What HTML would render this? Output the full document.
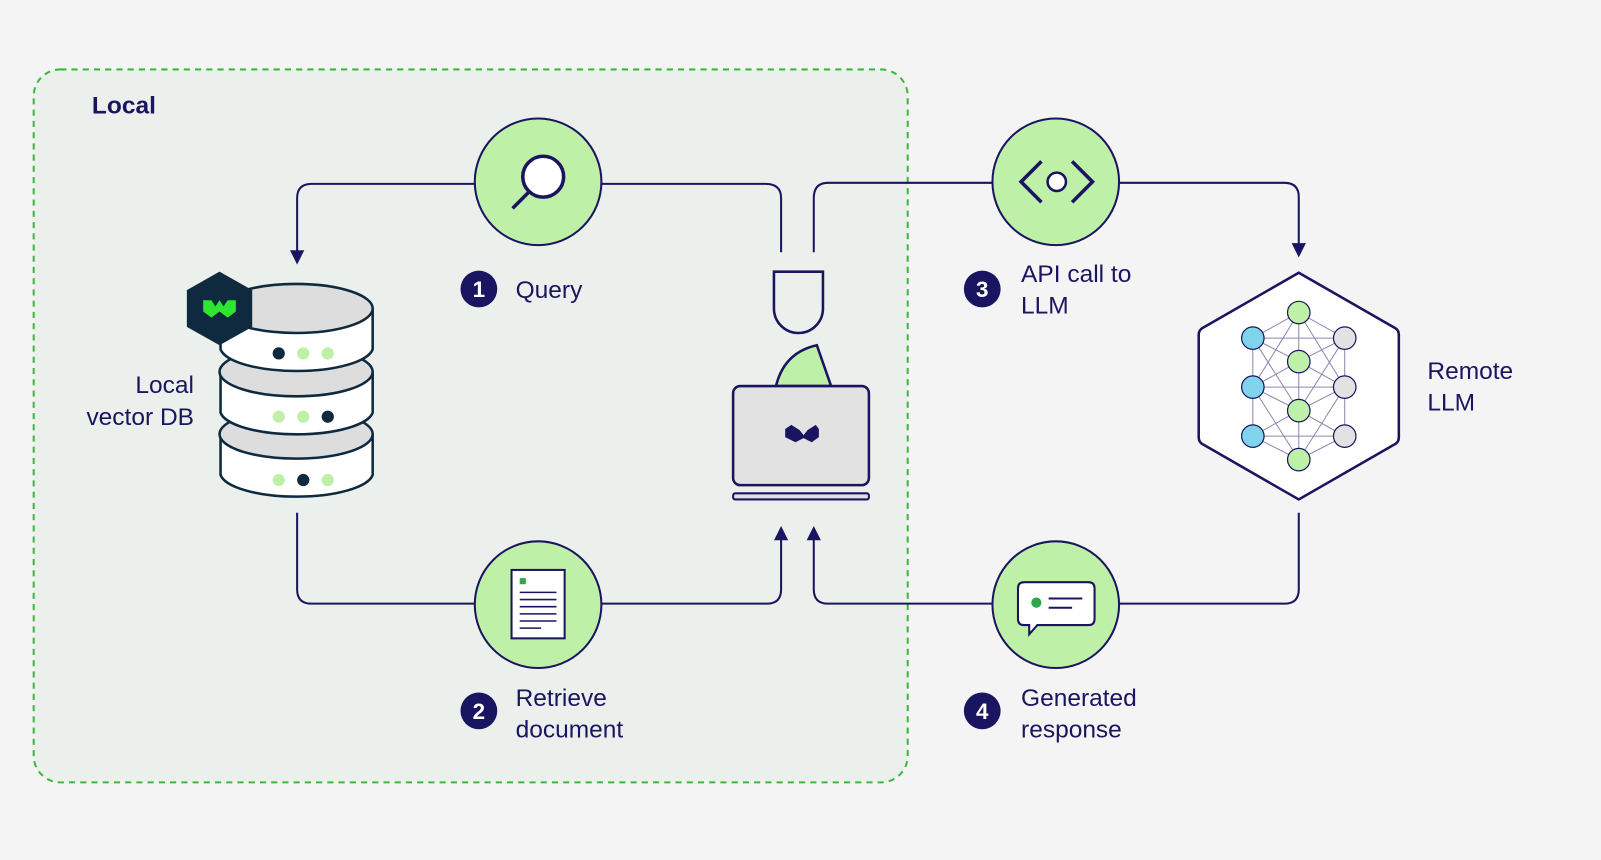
<!DOCTYPE html>
<html><head><meta charset="utf-8"><style>
html,body{margin:0;padding:0;background:#f4f4f4;}
svg{display:block}
text{font-family:"Liberation Sans",sans-serif;fill:#1a1560;}
</style></head><body>
<svg width="1601" height="860" viewBox="0 0 1568 842" preserveAspectRatio="none">
<defs>
<marker id="ar" markerWidth="14" markerHeight="14" refX="7" refY="7" orient="auto" markerUnits="userSpaceOnUse">
<path d="M0,0 L14,7 L0,14 z" fill="#1a1560"/></marker>
</defs>
<rect width="1568" height="842" fill="#f4f4f4"/>
<rect x="33" y="68" width="856" height="698" rx="26" fill="#ecf0ec" stroke="#3db83d" stroke-width="2" stroke-dasharray="6,5"/>
<text x="90" y="111" font-size="24" font-weight="bold">Local</text>

<g fill="none" stroke="#1a1560" stroke-width="2">
<path d="M465,180 H305 Q291,180 291,194 V252" marker-end="url(#ar)"/>
<path d="M589,180 H750 Q765,180 765,194 V247"/>
<path d="M797,247 V194 Q797,179 811,179 H972"/>
<path d="M1096,179 H1258 Q1272,179 1272,193 V245" marker-end="url(#ar)"/>
<path d="M291,502 V577 Q291,591 305,591 H465"/>
<path d="M589,591 H751 Q765,591 765,577 V522" marker-end="url(#ar)"/>
<path d="M972,591 H811 Q797,591 797,577 V522" marker-end="url(#ar)"/>
<path d="M1096,591 H1258 Q1272,591 1272,577 V502"/>
</g>

<g fill="#bff0a8" stroke="#1a1560" stroke-width="2">
<circle cx="527" cy="178" r="62"/><circle cx="527" cy="592" r="62"/>
<circle cx="1034" cy="178" r="62"/><circle cx="1034" cy="592" r="62"/>
</g>
<circle cx="532" cy="173" r="20" fill="#fff" stroke="#1a1560" stroke-width="3.5"/>
<line x1="518" y1="188" x2="502" y2="204" stroke="#1a1560" stroke-width="3.5"/>
<rect x="501" y="558" width="52" height="67" fill="#fff" stroke="#1a1560" stroke-width="2"/>
<rect x="509" y="566" width="6" height="6" fill="#2ea84a"/>
<g stroke="#1a1560" stroke-width="1.5"><line x1="509" y1="580" x2="545" y2="580"/><line x1="509" y1="587" x2="545" y2="587"/><line x1="509" y1="594" x2="545" y2="594"/><line x1="509" y1="601" x2="545" y2="601"/><line x1="509" y1="608" x2="545" y2="608"/><line x1="509" y1="615" x2="530" y2="615"/></g>
<g fill="none" stroke="#1a1560" stroke-width="3.5"><path d="M1020,158 L1000,178 L1020,198"/><path d="M1050,158 L1070,178 L1050,198"/></g>
<circle cx="1035" cy="178" r="9" fill="#fff" stroke="#1a1560" stroke-width="2.5"/>
<path d="M1003,570 H1066 Q1072,570 1072,576 V606 Q1072,612 1066,612 H1016 L1008,621 V612 H1003 Q997,612 997,606 V576 Q997,570 1003,570 z" fill="#fff" stroke="#1a1560" stroke-width="2"/>
<circle cx="1015" cy="590" r="5" fill="#2ea84a"/>
<line x1="1027" y1="586" x2="1060" y2="586" stroke="#1a1560" stroke-width="2"/>
<line x1="1027" y1="595" x2="1050" y2="595" stroke="#1a1560" stroke-width="2"/>

<g fill="#1a1560"><circle cx="469" cy="283" r="18"/><circle cx="469" cy="696" r="18"/><circle cx="962" cy="283" r="18"/><circle cx="962" cy="696" r="18"/></g>
<g font-size="22" font-weight="bold" text-anchor="middle">
<text x="469" y="291" style="fill:#fff">1</text><text x="469" y="704" style="fill:#fff">2</text>
<text x="962" y="291" style="fill:#fff">3</text><text x="962" y="704" style="fill:#fff">4</text></g>
<g font-size="24">
<text x="505" y="292">Query</text>
<text x="505" y="691">Retrieve</text><text x="505" y="722">document</text>
<text x="1000" y="276">API call to</text><text x="1000" y="307">LLM</text>
<text x="1000" y="691">Generated</text><text x="1000" y="722">response</text>
<text x="1398" y="371">Remote</text><text x="1398" y="402">LLM</text>
<text x="190" y="385" text-anchor="end">Local</text><text x="190" y="416" text-anchor="end">vector DB</text>
</g>

<g stroke="#0f2a3f" stroke-width="2.5">
<path d="M216,425 V465 A75,24 0 0 0 365,465 V425" fill="#fff"/>
<ellipse cx="290" cy="425" rx="75" ry="24" fill="#ddd"/>
<path d="M216,364 V404 A75,24 0 0 0 365,404 V364" fill="#fff"/>
<ellipse cx="290" cy="364" rx="75" ry="24" fill="#ddd"/>
<path d="M216,302 V342 A75,24 0 0 0 365,342 V302" fill="#fff"/>
<ellipse cx="290" cy="302" rx="75" ry="24" fill="#ddd"/>
</g>
<g><circle cx="273" cy="346" r="6" fill="#0f2a3f"/><circle cx="297" cy="346" r="6" fill="#bff0a8"/><circle cx="321" cy="346" r="6" fill="#bff0a8"/>
<circle cx="273" cy="408" r="6" fill="#bff0a8"/><circle cx="297" cy="408" r="6" fill="#bff0a8"/><circle cx="321" cy="408" r="6" fill="#0f2a3f"/>
<circle cx="273" cy="470" r="6" fill="#bff0a8"/><circle cx="297" cy="470" r="6" fill="#0f2a3f"/><circle cx="321" cy="470" r="6" fill="#bff0a8"/></g>
<polygon points="215,266 247,284 247,320 215,338 183,320 183,284" fill="#0f2a3f"/>
<path d="M199,294 L207,294 L211,300 L215,294 L219,300 L223,294 L231,294 L231,305 L223,311 L215,305 L207,311 L199,305 z" fill="#2ee62e"/>

<path d="M758,266 H806 V302 A24,24 0 0 1 758,302 z" fill="none" stroke="#1a1560" stroke-width="2.5"/>
<path d="M760,378 Q768,345 800,338 L814,378 z" fill="#bff0a8" stroke="#1a1560" stroke-width="2.5"/>
<rect x="718" y="378" width="133" height="97" rx="7" fill="#e2e2e2" stroke="#1a1560" stroke-width="2.5"/>
<rect x="718" y="483" width="133" height="6" rx="2" fill="#e2e2e2" stroke="#1a1560" stroke-width="2"/>
<path d="M769,420 L775,416 L783,421 L787,426 L791,421 L799,416 L802,420 L802,428 L795,433 L787,429 L779,433 L769,428 z" fill="#1a1560"/>

<path d="M1272,267 L1366,321 Q1370,323 1370,328 V428 Q1370,433 1366,435 L1272,489 L1178,435 Q1174,433 1174,428 V328 Q1174,323 1178,321 z" fill="#fff" stroke="#1a1560" stroke-width="2.5"/>
<g stroke="#8a88b0" stroke-width="1" fill="none">
<path d="M1227,331 L1272,306 L1317,331 L1272,354 z M1227,379 L1272,354 L1317,379 L1272,402 z M1227,427 L1272,402 L1317,427 L1272,450 z"/>
<path d="M1227,331 V427 M1272,306 V450 M1317,331 V427 M1227,331 H1317 M1227,379 H1317 M1227,427 H1317 M1227,331 L1272,402 M1317,331 L1272,402 M1227,379 L1272,450 M1317,379 L1272,450 M1227,379 L1272,306 M1317,379 L1272,306"/>
</g>
<g stroke="#1a1560" stroke-width="1.2">
<circle cx="1272" cy="306" r="11" fill="#bff0a8"/><circle cx="1272" cy="354" r="11" fill="#bff0a8"/><circle cx="1272" cy="402" r="11" fill="#bff0a8"/><circle cx="1272" cy="450" r="11" fill="#bff0a8"/>
<circle cx="1227" cy="331" r="11" fill="#7fd3ea"/><circle cx="1227" cy="379" r="11" fill="#7fd3ea"/><circle cx="1227" cy="427" r="11" fill="#7fd3ea"/>
<circle cx="1317" cy="331" r="11" fill="#e2e2e2"/><circle cx="1317" cy="379" r="11" fill="#e2e2e2"/><circle cx="1317" cy="427" r="11" fill="#e2e2e2"/>
</g>
</svg>
</body></html>
